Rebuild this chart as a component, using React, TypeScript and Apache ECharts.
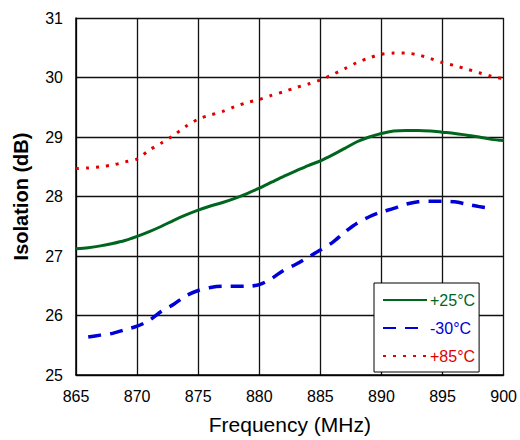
import React, { useEffect, useRef } from "react";
import * as echarts from "echarts";

const freqs = [865,866,867,868,869,870,871,872,873,874,875,876,877,878,879,880,881,882,883,884,885,886,887,888,889,890,891,892,893,894,895,896,897,898,899,900];
const plus25 = [27.12,27.14,27.17,27.21,27.26,27.33,27.41,27.5,27.6,27.69,27.77,27.84,27.9,27.97,28.05,28.14,28.24,28.34,28.43,28.52,28.6,28.7,28.81,28.92,29.0,29.06,29.1,29.11,29.11,29.1,29.08,29.06,29.03,29.0,28.96,28.94];
const minus30 = [null,25.64,25.67,25.7,25.76,25.82,25.92,26.07,26.19,26.33,26.42,26.47,26.49,26.49,26.49,26.52,26.62,26.76,26.86,26.98,27.1,27.23,27.4,27.55,27.66,27.74,27.8,27.87,27.91,27.92,27.92,27.91,27.87,27.83,27.8,null];
const plus85 = [28.47,28.48,28.5,28.53,28.58,28.63,28.78,28.9,29.03,29.18,29.3,29.37,29.43,29.51,29.58,29.63,29.7,29.76,29.83,29.89,29.96,30.05,30.15,30.25,30.33,30.39,30.41,30.41,30.38,30.32,30.25,30.2,30.14,30.08,30.02,29.98];
const seriesNames = ["+25°C", "-30°C", "+85°C"];
const colors = ["#00661e", "#0000d8", "#e00000"];

const FONT = "'Liberation Sans', Arial, sans-serif";

export default function App() {
  const ref = useRef<HTMLDivElement>(null);
  useEffect(() => {
    document.body.style.margin = "0";
    const chart = echarts.init(ref.current!, null, { renderer: "svg" });
    const mk = (vals: (number | null)[]) => freqs.map((f, i) => [f, vals[i]]);
    chart.setOption({
      animation: false,
      backgroundColor: "#fff",
      textStyle: { fontFamily: FONT },
      grid: { left: 76, right: 12, top: 18, bottom: 62 },
      legend: {
        orient: "vertical",
        left: 374,
        top: 283,
        width: 105,
        padding: [9, 4, 8, 8],
        itemWidth: 44,
        itemHeight: 14,
        itemGap: 12,
        borderColor: "#000",
        borderWidth: 1,
        backgroundColor: "#fff",
        itemStyle: { opacity: 0 },
        data: seriesNames.map((n, i) => ({
          name: n,
          textStyle: { color: colors[i], fontSize: 16, fontFamily: FONT, padding: [0, 0, 0, -2] },
        })),
      },
      xAxis: {
        type: "value",
        min: 865,
        max: 900,
        interval: 5,
        name: "Frequency (MHz)",
        nameLocation: "middle",
        nameGap: 39,
        nameTextStyle: { fontSize: 21, color: "#000", fontFamily: FONT },
        axisLine: { lineStyle: { color: "#000", width: 1.5 } },
        axisTick: { show: false },
        axisLabel: { fontSize: 16, color: "#000", margin: 13, fontFamily: FONT },
        splitLine: { lineStyle: { color: "#111", width: 1.3 } },
      },
      yAxis: {
        type: "value",
        min: 25,
        max: 31,
        interval: 1,
        name: "Isolation (dB)",
        nameLocation: "middle",
        nameGap: 45,
        nameTextStyle: { fontSize: 20, fontWeight: "bold", color: "#000", fontFamily: FONT },
        axisLine: { show: true, lineStyle: { color: "#000", width: 1.5 } },
        axisTick: { show: false },
        axisLabel: { fontSize: 16, color: "#000", margin: 13, fontFamily: FONT },
        splitLine: { lineStyle: { color: "#111", width: 1.3 } },
      },
      series: [
        {
          name: seriesNames[0],
          type: "line",
          data: mk(plus25),
          showSymbol: false,
          symbol: "none",
          smooth: 0.3,
          lineStyle: { color: colors[0], width: 3 },
          itemStyle: { color: colors[0] },
        },
        {
          name: seriesNames[1],
          type: "line",
          data: mk(minus30),
          showSymbol: false,
          symbol: "none",
          smooth: 0.3,
          lineStyle: { color: colors[1], width: 3.5, type: [13, 9] },
          itemStyle: { color: colors[1] },
        },
        {
          name: seriesNames[2],
          type: "line",
          data: mk(plus85),
          showSymbol: false,
          symbol: "none",
          smooth: 0.3,
          lineStyle: { color: colors[2], width: 3, type: [3, 7] },
          itemStyle: { color: colors[2] },
        },
      ],
    });
    return () => chart.dispose();
  }, []);
  return <div ref={ref} style={{ width: 520, height: 440 }} />;
}
